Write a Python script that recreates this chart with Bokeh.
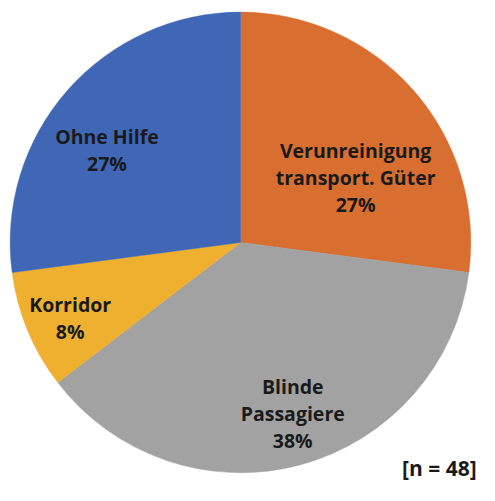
import numpy as np
from bokeh.plotting import figure
from bokeh.models import ColumnDataSource, Range1d
from bokeh.core.properties import value
from bokeh.embed import file_html
from bokeh.resources import INLINE

# ---- data ----
categories = ["Verunreinigung\ntransport. Güter", "Blinde\nPassagiere", "Korridor", "Ohne Hilfe"]
counts = [13, 18, 4, 13]
colors = ["#D86F31", "#A2A2A2", "#EEB02E", "#3F67B6"]
n_total = sum(counts)
note = f"[n = {n_total}]"

# ---- layout (reference px, scaled to figure) ----
W, H = 479, 485
s = W / 495.0
cx, cy, R = 248 * s, H - 250 * s, 238 * s
label_offsets = [(119, 67), (54, -177), (-176, -78), (-138, 95)]
fs = 19.5

vals = np.array(counts, dtype=float)
frac = vals / vals.sum()
ends = np.cumsum(frac) * 2 * np.pi
starts = ends - frac * 2 * np.pi
start_angle = np.pi / 2 - starts
end_angle = np.pi / 2 - ends
pct = [f"{round(f * 100):.0f}%" for f in frac]
texts = [f"{c}\n{p}" for c, p in zip(categories, pct)]

src = ColumnDataSource(dict(
    start=start_angle, end=end_angle, color=colors,
    lx=[cx + o[0] * s for o in label_offsets], ly=[cy + o[1] * s for o in label_offsets],
    txt=texts,
))

p = figure(width=W, height=H, output_backend="svg", toolbar_location=None,
           x_range=Range1d(0, W), y_range=Range1d(0, H), min_border=0)
p.axis.visible = False
p.grid.visible = False
p.outline_line_color = None
p.background_fill_color = "white"
p.border_fill_color = "white"

p.wedge(x=cx, y=cy, radius=R, start_angle="start", end_angle="end",
        direction="clock", fill_color="color", line_color="color", line_width=0.5,
        source=src)

p.text(x="lx", y="ly", text="txt", source=src,
       text_font=value("Open Sans"), text_font_style="bold", text_font_size=f"{fs}px",
       text_color="#1a1a1a", text_align="center", text_baseline="middle",
       text_line_height=1.0)

p.text(x=[492 * s], y=[4], text=[note],
       text_font=value("Open Sans"), text_font_style="bold", text_font_size="21px",
       text_color="#1a1a1a", text_align="right", text_baseline="bottom")

open("out.html", "w").write(file_html(p, INLINE))
